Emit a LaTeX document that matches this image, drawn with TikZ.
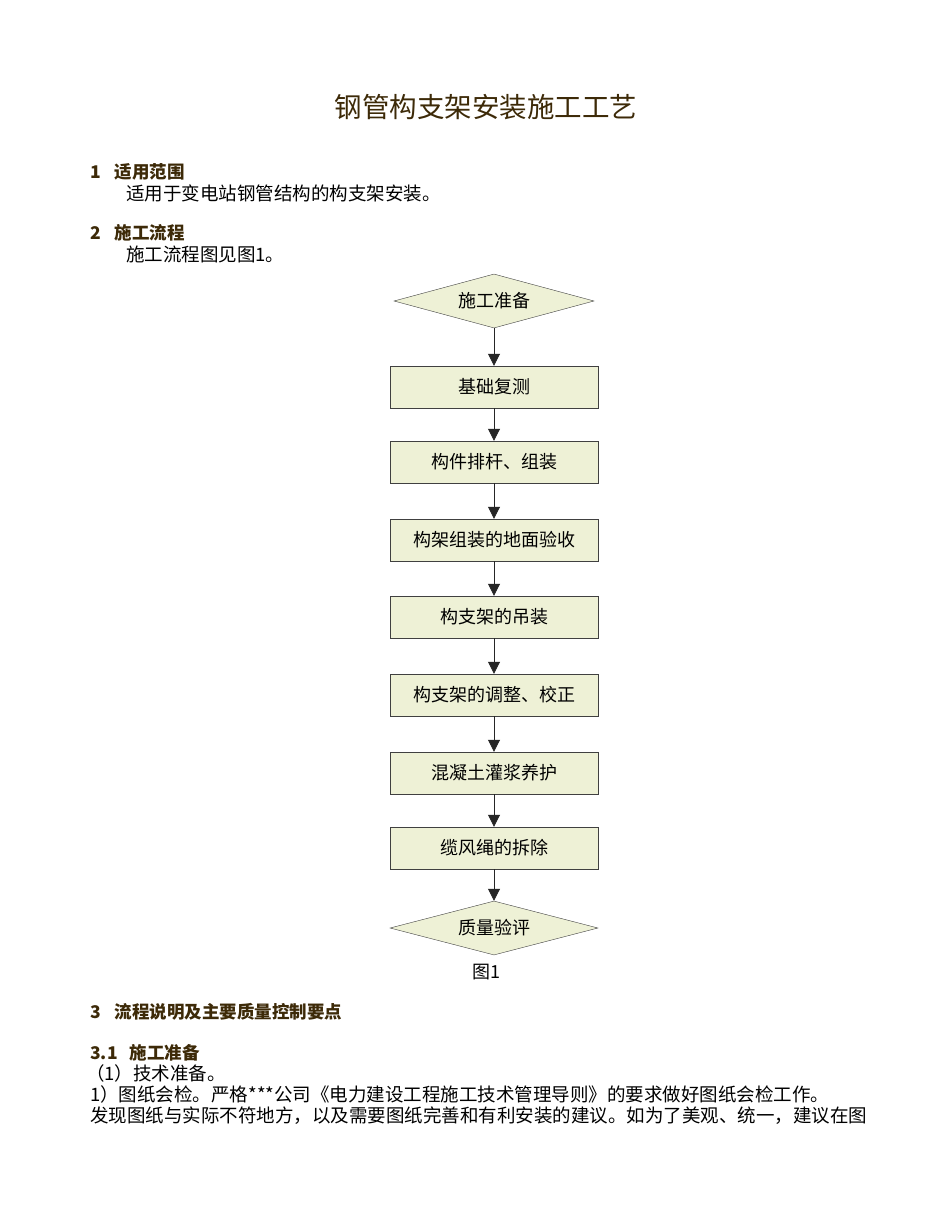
\documentclass[tikz,border=0pt]{standalone}
\usepackage{fontspec}
\setmainfont{Liberation Serif}
\newfontfamily\cjk{Noto Sans CJK SC}
\usetikzlibrary{shapes.geometric,arrows.meta}
\definecolor{boxfill}{HTML}{EEF1D6}
\definecolor{head}{HTML}{3D2A08}
\begin{document}
\begin{tikzpicture}[x=1pt,y=-1pt,
  stepbox/.style={draw=black!75,fill=boxfill,minimum width=208pt,minimum height=42pt,inner sep=0pt,font=\cjk\fontsize{18}{21}\selectfont},
  decide/.style={draw=black!75,fill=boxfill,diamond,aspect=3.8,minimum width=200pt,minimum height=54pt,inner sep=0pt,font=\cjk\fontsize{18}{21}\selectfont},
  flow/.style={draw=black!85,thick,-{Triangle[length=12pt,width=12pt]}},
  body/.style={anchor=west,inner sep=0pt,font=\cjk\fontsize{18.5}{22}\selectfont},
  hd/.style={anchor=west,inner sep=0pt,text=head,font=\cjk\bfseries\fontsize{17.5}{21}\selectfont}]
\useasboundingbox[fill=white] (0,0) rectangle (950,1230);
\node[text=head,font=\cjk\fontsize{27.5}{32}\selectfont] (title) at (486,107) {钢管构支架安装施工工艺};
\node[hd] (h1) at (90,172) {1\hspace{14pt}适用范围};
\node[body] (t1) at (126,193) {适用于变电站钢管结构的构支架安装。};
\node[hd] (h2) at (90,233) {2\hspace{14pt}施工流程};
\node[body] (t2) at (126,254) {施工流程图见图1。};
\node[decide] (s0) at (494,301) {施工准备};
\node[stepbox] (s1) at (494,387) {基础复测};
\node[stepbox] (s2) at (494,462) {构件排杆、组装};
\node[stepbox] (s3) at (494,540) {构架组装的地面验收};
\node[stepbox] (s4) at (494,617) {构支架的吊装};
\node[stepbox] (s5) at (494,695) {构支架的调整、校正};
\node[stepbox] (s6) at (494,773) {混凝土灌浆养护};
\node[stepbox] (s7) at (494,848) {缆风绳的拆除};
\node[decide,minimum width=208pt] (s8) at (494,928) {质量验评};
\foreach \a/\b in {s0/s1,s1/s2,s2/s3,s3/s4,s4/s5,s5/s6,s6/s7,s7/s8}{\draw[flow] (\a) -- (\b);}
\node[font=\cjk\fontsize{18}{21}\selectfont] (fig) at (486,972) {图1};
\node[hd] (h3) at (90,1012) {3\hspace{14pt}流程说明及主要质量控制要点};
\node[hd] (h31) at (90,1053) {3.1\hspace{12pt}施工准备};
\node[body] (l1) at (86,1073) {（1）技术准备。};
\node[body] (l2) at (90,1094) {1）图纸会检。严格***公司《电力建设工程施工技术管理导则》的要求做好图纸会检工作。};
\node[body] (l3) at (90,1116) {发现图纸与实际不符地方，以及需要图纸完善和有利安装的建议。如为了美观、统一，建议在图};
\end{tikzpicture}
\end{document}
